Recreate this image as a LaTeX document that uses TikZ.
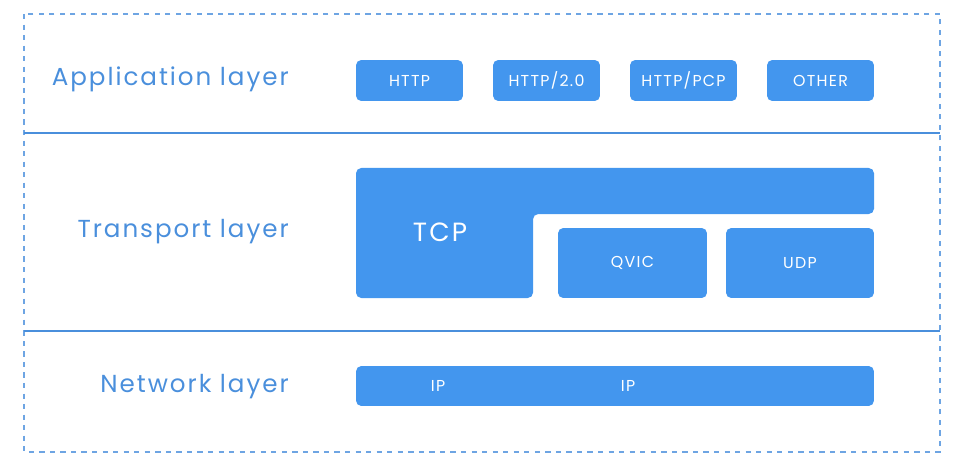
\documentclass[tikz,border=0pt]{standalone}
\usepackage{fontspec}
\setmainfont[LetterSpace=8]{Poppins}
\usetikzlibrary{positioning}
\definecolor{layerblue}{HTML}{4396EE}
\definecolor{labelblue}{HTML}{4A8FDC}
\tikzset{
  proto/.style={fill=layerblue, rounded corners=3pt, text=white, font=\fontsize{9}{10}\selectfont, inner sep=0pt},
  layername/.style={anchor=east, text=labelblue, font=\fontsize{14}{16}\selectfont}
}

\begin{document}
\begin{tikzpicture}[x=0.02cm, y=-0.02cm]
  \useasboundingbox (0,0) rectangle (974,473);
  % frame and layer separators
  \draw[labelblue!80, dashed, line width=0.8pt] (24,14) rectangle (940,452);
  \draw[labelblue, line width=1.5pt] (24,133) -- (940,133);
  \draw[labelblue, line width=1.5pt] (24,331) -- (940,331);

  % layer names
  \node[layername] (app) at (295,79) {Application layer};
  \node[layername] (trans) at (295,232) {Transport layer};
  \node[layername] (net) at (295,387) {Network layer};

  % application layer
  \node[proto, minimum width=2.14cm, minimum height=0.82cm] (http) at (409.5,80.5) {HTTP};
  \node[proto, minimum width=2.14cm, minimum height=0.82cm] (http2) at (546.5,80.5) {HTTP/2.0};
  \node[proto, minimum width=2.14cm, minimum height=0.82cm] (httppcp) at (683.5,80.5) {HTTP/PCP};
  \node[proto, minimum width=2.14cm, minimum height=0.82cm] (other) at (820.5,80.5) {OTHER};

  % transport layer
  \fill[layerblue, rounded corners=3pt] (356,168) -- (874,168) -- (874,214) -- (533,214) -- (533,298) -- (356,298) -- cycle;
  \node[text=white, font=\fontsize{15}{17}\selectfont] (tcp) at (440,232) {TCP};
  \node[proto, minimum width=2.98cm, minimum height=1.4cm] (qvic) at (632.5,263) {QVIC};
  \node[proto, minimum width=2.96cm, minimum height=1.4cm] (udp) at (800,263) {UDP};

  % network layer
  \node[proto, minimum width=10.36cm, minimum height=0.8cm] (ip) at (615,386) {};
  \node[text=white, font=\fontsize{9}{10}\selectfont] (ipa) at (438,386) {IP};
  \node[text=white, font=\fontsize{9}{10}\selectfont] (ipb) at (628,386) {IP};
\end{tikzpicture}
\end{document}
